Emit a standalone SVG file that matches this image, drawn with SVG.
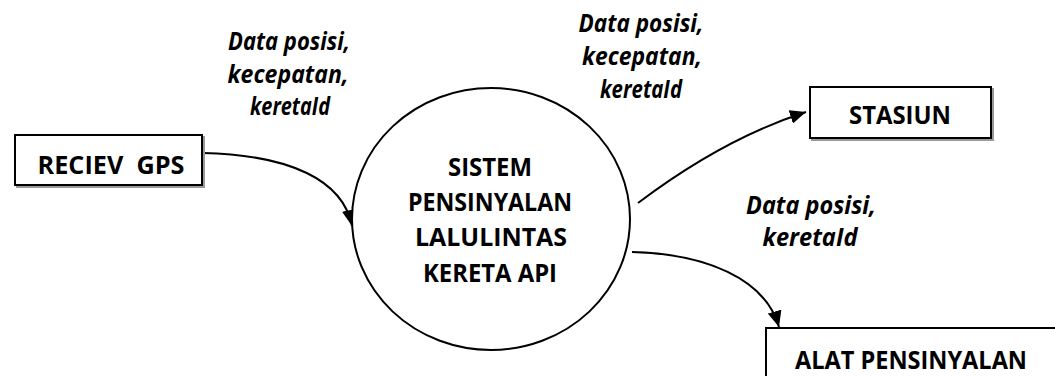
<svg xmlns="http://www.w3.org/2000/svg" width="1055" height="376" viewBox="0 0 1055 376">
<style>
.box{fill:#fff;stroke:#000;stroke-width:2}
.shadow{fill:none;stroke:#9a9a9a;stroke-width:2}
.t{font-family:"Open Sans",Lato,"Liberation Sans",sans-serif;font-weight:bold;font-size:25px;fill:#000;text-anchor:middle;white-space:pre}
.lbl{font-family:"Open Sans",Lato,"Liberation Sans",sans-serif;font-weight:bold;font-style:italic;font-size:25px;fill:#000;text-anchor:middle}
.flow{fill:none;stroke:#000;stroke-width:2}
</style>
<defs>
<marker id="ah" markerUnits="userSpaceOnUse" markerWidth="18" markerHeight="14" refX="16" refY="7" orient="auto">
<path d="M0,0 L16,7 L0,14 Z" fill="#000"/>
</marker>
</defs>
<rect width="1055" height="376" fill="#fff"/>
<g id="connectors">
<path class="flow" d="M203,153 C290,155 343,180 352,226" marker-end="url(#ah)"/>
<path class="flow" d="M638,203 C695,160 750,130 806,112" marker-end="url(#ah)"/>
<path class="flow" d="M632,252 C705,254 765,278 779,327" marker-end="url(#ah)"/>
</g>
<g id="labels">
<text class="lbl" x="289" y="50" textLength="122" lengthAdjust="spacingAndGlyphs">Data posisi,</text>
<text class="lbl" x="288" y="83" textLength="121" lengthAdjust="spacingAndGlyphs">kecepatan,</text>
<text class="lbl" x="290" y="115" textLength="80" lengthAdjust="spacingAndGlyphs">keretaId</text>
<text class="lbl" x="641" y="32" textLength="125" lengthAdjust="spacingAndGlyphs">Data posisi,</text>
<text class="lbl" x="642" y="65" textLength="120" lengthAdjust="spacingAndGlyphs">kecepatan,</text>
<text class="lbl" x="641" y="98" textLength="82" lengthAdjust="spacingAndGlyphs">keretaId</text>
<text class="lbl" x="811" y="214" textLength="130" lengthAdjust="spacingAndGlyphs">Data posisi,</text>
<text class="lbl" x="810" y="246" textLength="95" lengthAdjust="spacingAndGlyphs">keretaId</text>
</g>
<g id="reciev-gps">
<rect class="shadow" x="17" y="137" width="187" height="50"/>
<rect class="box" x="15" y="135" width="187" height="50"/>
<text class="t" x="111" y="174" textLength="147" lengthAdjust="spacingAndGlyphs" xml:space="preserve">RECIEV  GPS</text>
</g>
<g id="sistem">
<ellipse cx="491" cy="219" rx="139" ry="131" fill="#fff" stroke="#000" stroke-width="2"/>
<text class="t" x="490" y="176" textLength="84" lengthAdjust="spacingAndGlyphs">SISTEM</text>
<text class="t" x="490" y="211" textLength="164" lengthAdjust="spacingAndGlyphs">PENSINYALAN</text>
<text class="t" x="491" y="246" textLength="152" lengthAdjust="spacingAndGlyphs">LALULINTAS</text>
<text class="t" x="490" y="282" textLength="134" lengthAdjust="spacingAndGlyphs">KERETA API</text>
</g>
<g id="stasiun">
<rect class="shadow" x="812" y="89" width="181" height="51"/>
<rect class="box" x="810" y="87" width="181" height="51"/>
<text class="t" x="900" y="124" textLength="102" lengthAdjust="spacingAndGlyphs">STASIUN</text>
</g>
<g id="alat-pensinyalan">
<rect class="box" x="766" y="328" width="300" height="60"/>
<text class="t" x="911" y="369" textLength="232" lengthAdjust="spacingAndGlyphs">ALAT PENSINYALAN</text>
</g>
</svg>
